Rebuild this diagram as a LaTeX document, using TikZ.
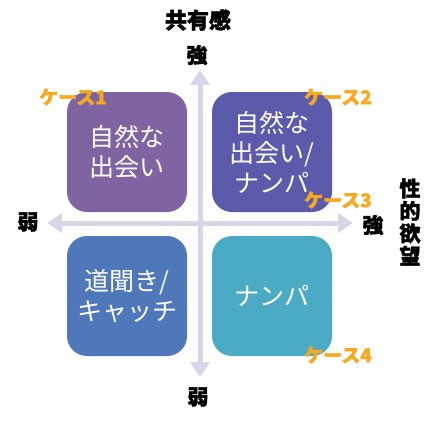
\documentclass[tikz,border=0pt]{standalone}
\usepackage{fontspec}
\usetikzlibrary{arrows.meta}
\newfontfamily\jp{Noto Sans CJK JP}
\newfontfamily\jpheavy[BoldFeatures={FakeBold=1.6}]{Noto Sans CJK JP}
\definecolor{axisgray}{RGB}{216,214,230}
\definecolor{casegold}{RGB}{247,170,30}
\definecolor{boxA}{RGB}{128,100,162}
\definecolor{boxB}{RGB}{92,90,170}
\definecolor{boxC}{RGB}{79,120,186}
\definecolor{boxD}{RGB}{75,171,197}

\begin{document}
\begin{tikzpicture}[x=1pt,y=-1pt,
    quad/.style={rounded corners=20pt,minimum width=120pt,minimum height=120pt,
        text=white,align=center,font=\jp\fontsize{25}{30}\selectfont,inner sep=0pt},
    axislabel/.style={font=\jpheavy\bfseries\fontsize{21}{22.5}\selectfont,text=black,align=center,inner sep=0pt},
    caselabel/.style={font=\jpheavy\bfseries\fontsize{19}{20}\selectfont,text=casegold,inner sep=0pt},
    axisline/.style={draw=axisgray,line width=5pt,
        {Triangle[width=19pt,length=15pt]}-{Triangle[width=19pt,length=15pt]}}]
    \useasboundingbox (0,0) rectangle (428,423);
    % axes
    \coordinate (top) at (200,70);
    \coordinate (bottom) at (200,377);
    \coordinate (left) at (47,223);
    \coordinate (right) at (353,223);
    \draw[axisline] (bottom)--(top);
    \draw[axisline] (left)--(right);
    % quadrants
    \node[quad,fill=boxA] (nat) at (127,152) {自然な\\出会い};
    \node[quad,fill=boxB] (natnan) at (272,152) {自然な\\出会い/\\ナンパ};
    \node[quad,fill=boxC] (road) at (127,296) {道聞き/\\キャッチ};
    \node[quad,fill=boxD] (nanpa) at (272,296) {ナンパ};
    % axis labels
    \node[axislabel,font=\jpheavy\bfseries\fontsize{22}{24}\selectfont] (share) at (198,20) {共有感};
    \node[axislabel] (topstrong) at (197,55) {強};
    \node[axislabel] (leftweak) at (28,222) {弱};
    \node[axislabel] (rightstrong) at (373,225) {強};
    \node[axislabel] (desire) at (410,222) {性\\的\\欲\\望};
    \node[axislabel] (bottomweak) at (198,397) {弱};
    % cases
    \node[caselabel] (case1) at (73,97) {ケース1};
    \node[caselabel] (case2) at (338,97) {ケース2};
    \node[caselabel] (case3) at (338,200) {ケース3};
    \node[caselabel] (case4) at (338,355) {ケース4};
\end{tikzpicture}
\end{document}
